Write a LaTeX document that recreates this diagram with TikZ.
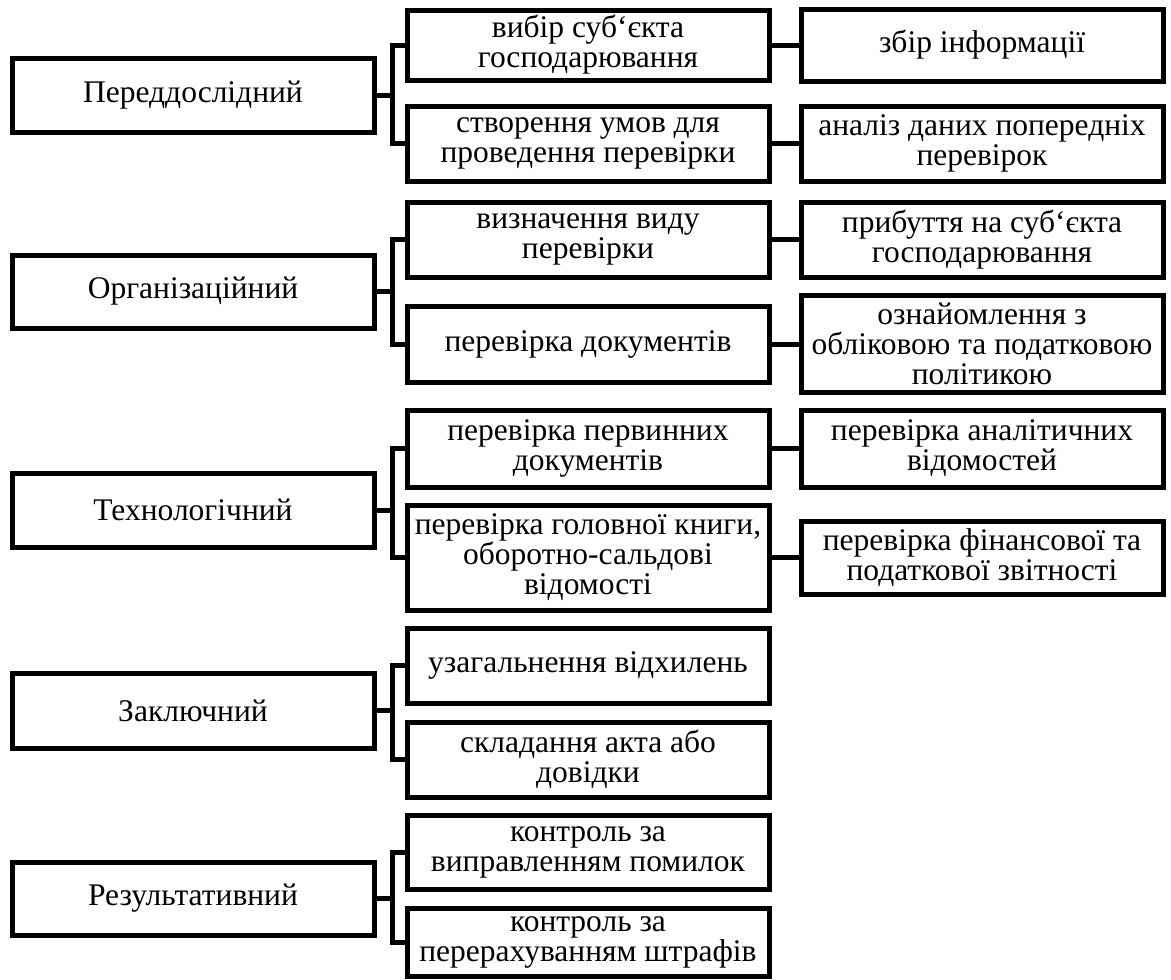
\documentclass[tikz,border=0pt]{standalone}
\usepackage{fontspec}
\setmainfont[Ligatures=NoCommon]{Liberation Serif}
\newcommand{\grv}{\symbol{96}}
\begin{document}
\begin{tikzpicture}[x=1pt,y=-1pt,
  box/.style={draw, line width=5pt, rectangle, inner sep=0pt, minimum width=362pt,
    align=center, font=\fontsize{31.5}{30}\selectfont},
  conn/.style={line width=5pt}]
\useasboundingbox (0,0) rectangle (1171,980);
% left column
\node[box, minimum height=74pt] (L1) at (193,95) {Переддослідний};
\node[box, minimum height=73pt] (L2) at (193,291.5) {Організаційний};
\node[box, minimum height=74pt] (L3) at (193,510) {Технологічний};
\node[box, minimum height=75pt] (L4) at (193,710.5) {Заключний};
\node[box, minimum height=73pt] (L5) at (193,898.5) {Результативний};
% middle column
\node[box, minimum height=70pt] (M11) at (588,45) {вибір суб\grv єкта\\господарювання};
\node[box, minimum height=75pt] (M12) at (588,143.5) {створення умов для\\проведення перевірки};
\node[box, minimum height=75pt] (M21) at (588,239.5) {визначення виду\\перевірки};
\node[box, minimum height=76pt] (M22) at (588,344) {перевірка документів};
\node[box, minimum height=77pt] (M31) at (588,448.5) {перевірка первинних\\документів};
\node[box, minimum height=105pt] (M32) at (588,557.5) {перевірка головної книги,\\оборотно-сальдові\\відомості};
\node[box, minimum height=75pt] (M41) at (588,665.5) {узагальнення відхилень};
\node[box, minimum height=75pt] (M42) at (588,759.5) {складання акта або\\довідки};
\node[box, minimum height=74pt] (M51) at (588,852) {контроль за\\виправленням помилок};
\node[box, minimum height=68pt] (M52) at (588,942) {контроль за\\перерахуванням штрафів};
% right column
\node[box, minimum height=72pt] (R11) at (982,45) {збір інформації};
\node[box, minimum height=75pt] (R12) at (982,143.5) {аналіз даних попередніх\\перевірок};
\node[box, minimum height=75pt] (R21) at (982,239.5) {прибуття на суб\grv єкта\\господарювання};
\node[box, minimum height=97pt] (R22) at (982,344) {ознайомлення з\\обліковою та податковою\\політикою};
\node[box, minimum height=77pt] (R31) at (982,448.5) {перевірка аналітичних\\відомостей};
\node[box, minimum height=73pt] (R32) at (982,557.5) {перевірка фінансової та\\податкової звітності};
% bracket connectors
\foreach \l/\a/\b in {L1/M11/M12, L2/M21/M22, L3/M31/M32, L4/M41/M42, L5/M51/M52}{
  \draw[conn] (\l.east) -- (\l.east -| 392,0);
  \draw[conn] (\a.west) -- (\a.west -| 392,0) -- (\b.west -| 392,0) -- (\b.west);
}
% middle to right
\foreach \a/\b in {M11/R11, M12/R12, M21/R21, M22/R22, M31/R31, M32/R32}{
  \draw[conn] (\a.east) -- (\b.west);
}
\end{tikzpicture}
\end{document}
